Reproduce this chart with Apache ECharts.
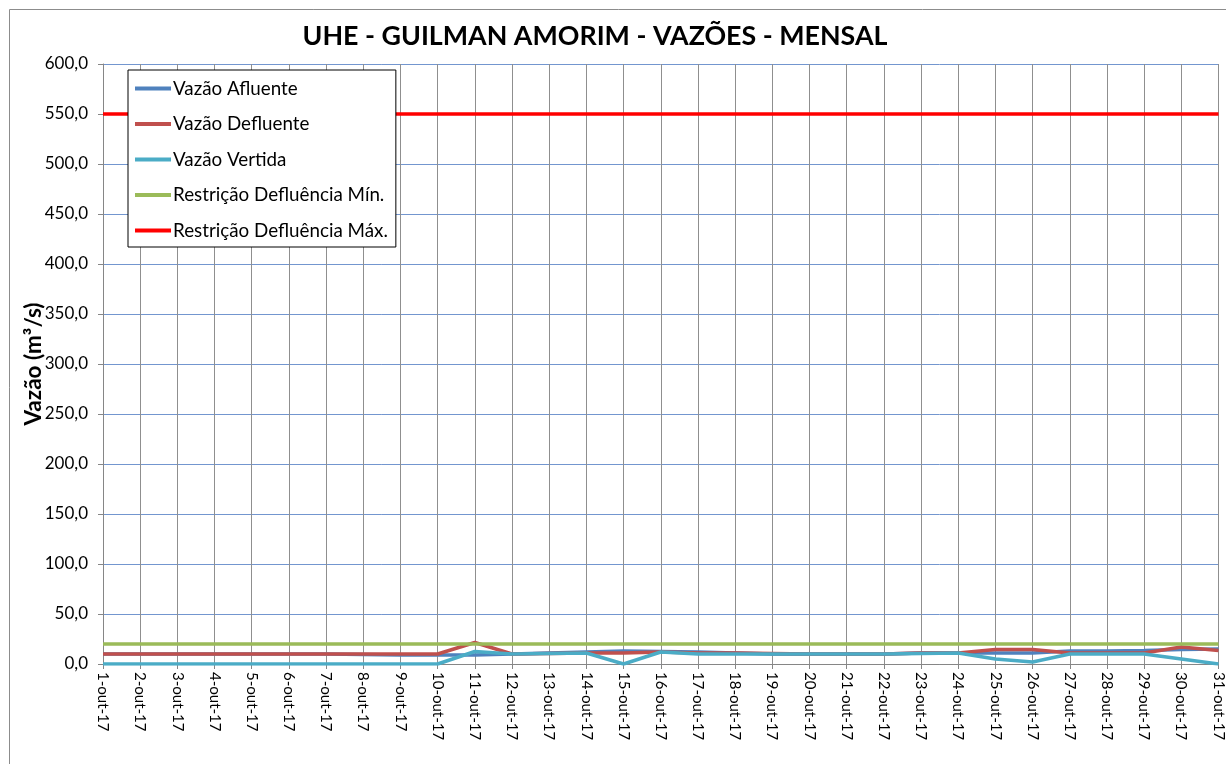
<!DOCTYPE html>
<html>
<head>
<meta charset="utf-8">
<script src="https://cdn.jsdelivr.net/npm/echarts@6/dist/echarts.min.js"></script>
<style>
html,body{margin:0;padding:0;background:#fff;}
#chart{width:1226px;height:764px;}
</style>
</head>
<body>
<div id="chart"></div>
<script>
const categories = ["1-out-17","2-out-17","3-out-17","4-out-17","5-out-17","6-out-17","7-out-17","8-out-17","9-out-17","10-out-17","11-out-17","12-out-17","13-out-17","14-out-17","15-out-17","16-out-17","17-out-17","18-out-17","19-out-17","20-out-17","21-out-17","22-out-17","23-out-17","24-out-17","25-out-17","26-out-17","27-out-17","28-out-17","29-out-17","30-out-17","31-out-17"];
const vazaoAfluente = [10,10,10,10,10,10,10,9.5,9,9,9,10,11,12,13,12.5,12,11,10,10,10,10,11,11,11,11,13,13,13.5,14.5,15];
const vazaoDefluente = [10,10,10,10,10,10,10,10,10,10,21.5,10,10.5,11,11,12,11,11,10.5,10,10,10,11,11,14.5,14.5,11,11,11,17,13.5];
const vazaoVertida = [0,0,0,0,0,0,0,0,0,0,12.5,10,10.5,11,0,12,10,10,10,10,10,10,10.5,11,5,2,10,10,10,5,0];
const restricaoMin = [20,20,20,20,20,20,20,20,20,20,20,20,20,20,20,20,20,20,20,20,20,20,20,20,20,20,20,20,20,20,20];
const restricaoMax = [550,550,550,550,550,550,550,550,550,550,550,550,550,550,550,550,550,550,550,550,550,550,550,550,550,550,550,550,550,550,550];
const seriesNames = ["Vazão Afluente","Vazão Defluente","Vazão Vertida","Restrição Defluência Mín.","Restrição Defluência Máx."];
const seriesColors = ["#4F81BD","#C0504D","#4BACC6","#9BBB59","#FF0000"];
const yTicks = {min:0,max:600,interval:50};

const FONT = "Lato";
const chart = echarts.init(document.getElementById('chart'), null, {renderer:'canvas'});
const dataSets = [vazaoAfluente, vazaoDefluente, vazaoVertida, restricaoMin, restricaoMax];
const option = {
  backgroundColor:'#fff',
  animation:false,
  textStyle:{fontFamily:FONT},
  title:{
    text:'UHE - GUILMAN AMORIM - VAZÕES - MENSAL',
    left:590, top:18, textAlign:'center',
    textStyle:{fontFamily:FONT,fontWeight:'bold',fontSize:26.8,color:'#000'}
  },
  graphic:[{type:'rect',shape:{x:9.5,y:9.5,width:1300,height:900},style:{fill:'none',stroke:'#8c8c8c',lineWidth:1},silent:true,z:-1}],
  legend:{
    orient:'vertical', left:128, top:70, z:20,
    backgroundColor:'#fff', borderColor:'#000', borderWidth:1,
    padding:[9,8,7,7], itemGap:16.5, itemWidth:36, itemHeight:4, icon:'rect',
    textStyle:{fontFamily:FONT,fontSize:18.8,color:'#000',padding:[0,0,0,-3]},
    data:seriesNames
  },
  grid:{left:103,right:5,top:64,bottom:100,containLabel:false},
  xAxis:{
    type:'category', data:categories, boundaryGap:false,
    axisLine:{lineStyle:{color:'#868686',width:1}},
    axisTick:{show:true,length:5,lineStyle:{color:'#868686'}},
    axisLabel:{rotate:-90,fontFamily:FONT,fontSize:15,color:'#000',margin:8,interval:0},
    splitLine:{show:true,lineStyle:{color:'#8f8f8f',width:1}}
  },
  yAxis:{
    type:'value', min:yTicks.min, max:yTicks.max, interval:yTicks.interval,
    name:'Vazão (m³/s)', nameLocation:'middle', nameGap:58, nameRotate:90, nameMoveOverlap:false,
    nameTextStyle:{fontFamily:FONT,fontWeight:'bold',fontSize:22.5,color:'#000'},
    axisLine:{show:true,lineStyle:{color:'#868686'}},
    axisTick:{show:true,length:5,lineStyle:{color:'#868686'}},
    axisLabel:{fontFamily:FONT,fontSize:17,color:'#000',margin:15,
      formatter:v=>v.toFixed(1).replace('.',',')},
    splitLine:{show:true,lineStyle:{color:'#7396cf',width:1}}
  },
  series: seriesNames.map((n,i)=>({
    name:n, type:'line', data:dataSets[i], symbol:'none',
    color:seriesColors[i],
    lineStyle:{color:seriesColors[i],width:3.5},
    z:2+i
  }))
};
chart.setOption(option);
</script>
</body>
</html>
